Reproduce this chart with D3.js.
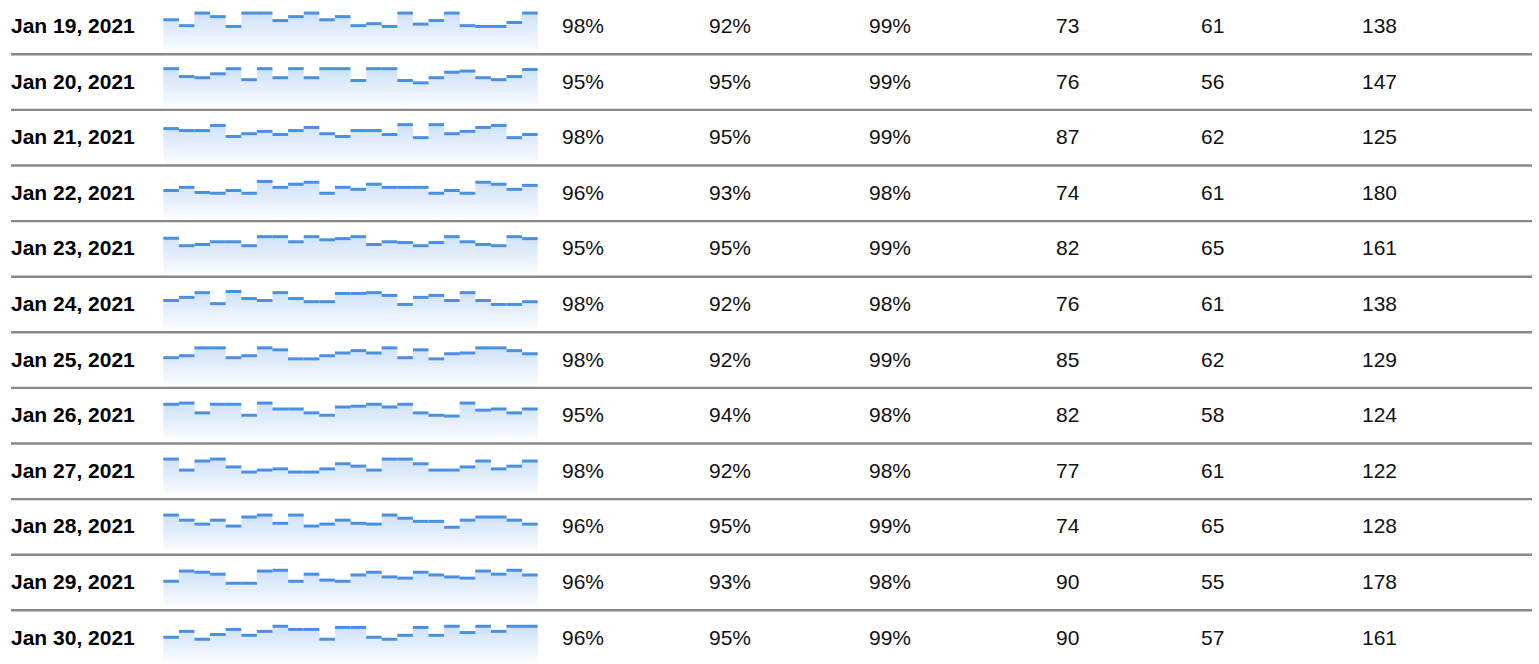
<!DOCTYPE html>
<html>
<head>
<meta charset="utf-8">
<script src="https://cdn.jsdelivr.net/npm/d3@7"></script>
<style>
  html, body { margin: 0; padding: 0; background: #fff; }
  svg { display: block; }
  text { font-family: "Liberation Sans", Arial, Helvetica, sans-serif; }
</style>
</head>
<body>
<div id="chart"></div>
<script>
// ---- data ----
const dates = ["Jan 19, 2021","Jan 20, 2021","Jan 21, 2021","Jan 22, 2021","Jan 23, 2021","Jan 24, 2021",
               "Jan 25, 2021","Jan 26, 2021","Jan 27, 2021","Jan 28, 2021","Jan 29, 2021","Jan 30, 2021"];
const rateA = [98, 95, 98, 96, 95, 98, 98, 95, 98, 96, 96, 96];
const rateB = [92, 95, 95, 93, 95, 92, 92, 94, 92, 95, 93, 95];
const rateC = [99, 99, 99, 98, 99, 98, 99, 98, 98, 99, 98, 99];
const countA = [73, 76, 87, 74, 82, 76, 85, 82, 77, 74, 90, 90];
const countB = [61, 56, 62, 61, 65, 61, 62, 58, 61, 65, 55, 57];
const countC = [138, 147, 125, 180, 161, 138, 129, 124, 122, 128, 178, 161];

// hourly sparkline values (24 per day)
const hJan19 = [81,66,98,89,64,98,98,79,89,98,81,89,66,71,64,98,70,79,98,66,64,64,74,98];
const hJan20 = [98,78,75,85,98,70,98,75,98,75,98,98,68,98,98,68,62,75,89,92,75,70,78,96];
const hJan21 = [87,82,82,95,67,74,80,72,82,90,74,67,82,82,72,97,64,97,74,80,90,95,64,72];
const hJan22 = [71,79,66,64,71,64,94,79,87,92,64,79,74,87,79,79,79,64,71,64,92,87,74,84];
const hJan23 = [91,72,75,82,82,72,95,95,82,95,87,90,95,75,82,80,72,80,95,82,75,72,95,90];
const hJan24 = [74,82,94,66,97,79,74,94,79,71,71,92,92,94,87,64,82,87,74,94,74,64,64,71];
const hJan25 = [70,75,95,95,70,75,95,90,67,67,75,82,88,82,95,70,90,67,80,82,95,95,88,80];
const hJan26 = [93,96,71,93,93,65,96,81,81,71,65,86,88,93,86,93,71,65,63,96,78,81,71,81];
const hJan27 = [95,67,90,95,75,62,67,70,62,62,70,83,77,67,95,95,83,67,67,75,90,70,77,90];
const hJan28 = [94,81,71,81,66,89,94,73,94,66,71,81,73,71,94,86,78,78,63,81,89,89,81,71];
const hJan29 = [67,93,90,85,62,62,93,95,67,85,70,67,83,90,78,75,90,83,78,75,93,85,95,83];
const hJan30 = [66,81,61,73,86,71,81,94,86,86,61,91,91,66,61,71,91,71,94,78,94,81,94,94];
const hourly = [hJan19,hJan20,hJan21,hJan22,hJan23,hJan24,hJan25,hJan26,hJan27,hJan28,hJan29,hJan30];

// ---- layout ----
const W = 1539, H = 664;
const rowH = 55.6;
const svg = d3.select("#chart").append("svg").attr("width", W).attr("height", H);

const defs = svg.append("defs");
const grad = defs.append("linearGradient").attr("id", "sparkFill")
  .attr("x1", 0).attr("y1", 0).attr("x2", 0).attr("y2", 1);
grad.append("stop").attr("offset", "0%").attr("stop-color", "#4a90e2").attr("stop-opacity", 0.27);
grad.append("stop").attr("offset", "100%").attr("stop-color", "#4a90e2").attr("stop-opacity", 0.02);

const rowScale = d3.scaleLinear().domain([0, 1]).range([0, rowH]);
const xSpark = d3.scaleLinear().domain([0, 24]).range([163.3, 537.7]);
const ySpark = d3.scaleLinear().domain([0, 100]).range([51.6, 12.3]);

const cols = [
  { x: 562, vals: rateA, fmt: d => d + "%" },
  { x: 709, vals: rateB, fmt: d => d + "%" },
  { x: 869, vals: rateC, fmt: d => d + "%" },
  { x: 1056, vals: countA, fmt: d => d },
  { x: 1201, vals: countB, fmt: d => d },
  { x: 1362, vals: countC, fmt: d => d }
];

const rows = svg.selectAll("g.row").data(dates).join("g")
  .attr("class", "row")
  .attr("transform", (d, i) => `translate(0,${rowScale(i)})`);

// separators
rows.append("line")
  .attr("x1", 11).attr("x2", 1532)
  .attr("y1", 54.3).attr("y2", 54.3)
  .attr("stroke", "#888").attr("stroke-width", 2.4);

// date labels
rows.append("text")
  .attr("x", 11).attr("y", 33)
  .attr("font-size", 21).attr("font-weight", "bold").attr("fill", "#000")
  .text(d => d);

// value columns
cols.forEach(c => {
  rows.append("text")
    .attr("x", c.x).attr("y", 33)
    .attr("font-size", 21).attr("fill", "#111")
    .text((d, i) => c.fmt(c.vals[i]));
});

// sparklines
const area = d3.area()
  .x((d, i) => xSpark(i))
  .y0(ySpark(0))
  .y1(d => ySpark(d))
  .curve(d3.curveStepAfter);

rows.each(function(d, i) {
  const g = d3.select(this).append("g").attr("class", "spark");
  const vals = hourly[i];
  const ext = vals.concat([vals[vals.length - 1]]);
  g.append("path").datum(ext)
    .attr("d", area)
    .attr("fill", "url(#sparkFill)");
  g.selectAll("line.seg").data(vals).join("line")
    .attr("class", "seg")
    .attr("x1", (v, j) => xSpark(j))
    .attr("x2", (v, j) => xSpark(j + 1))
    .attr("y1", v => ySpark(v))
    .attr("y2", v => ySpark(v))
    .attr("stroke", "#4a90e2")
    .attr("stroke-width", 3);
});
</script>
</body>
</html>
